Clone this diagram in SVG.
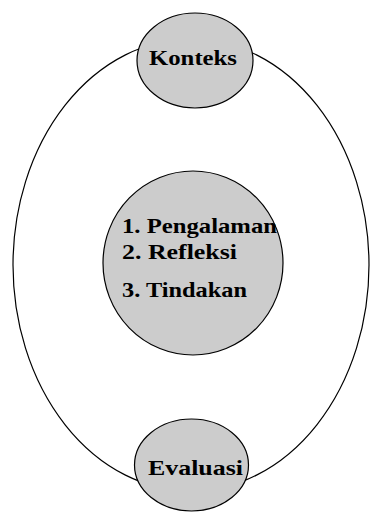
<svg xmlns="http://www.w3.org/2000/svg" width="370" height="512" viewBox="0 0 370 512">
<style>
.ring{fill:none;stroke:#000;stroke-width:1.2}
.node{fill:#cccccc;stroke:#000;stroke-width:1.2}
.t{font-family:"Liberation Serif","Times New Roman",serif;font-weight:bold;font-size:21px;fill:#000}
</style>
<rect width="370" height="512" fill="#fff"/>
<g id="connectors">
<ellipse class="ring" cx="191" cy="265" rx="178" ry="226"/>
</g>
<g id="konteks">
<ellipse class="node" cx="195" cy="60.5" rx="58" ry="47.5"/>
<text class="t" x="149" y="65" textLength="88" lengthAdjust="spacingAndGlyphs">Konteks</text>
</g>
<g id="proses">
<ellipse class="node" cx="193" cy="263" rx="90" ry="92"/>
<text class="t" x="122" y="233" textLength="155" lengthAdjust="spacingAndGlyphs">1. Pengalaman</text>
<text class="t" x="122" y="259" textLength="115" lengthAdjust="spacingAndGlyphs">2. Refleksi</text>
<text class="t" x="122" y="297" textLength="125" lengthAdjust="spacingAndGlyphs">3. Tindakan</text>
</g>
<g id="evaluasi">
<ellipse class="node" cx="191.5" cy="465" rx="57" ry="46"/>
<text class="t" x="148" y="475" textLength="95" lengthAdjust="spacingAndGlyphs">Evaluasi</text>
</g>
</svg>
